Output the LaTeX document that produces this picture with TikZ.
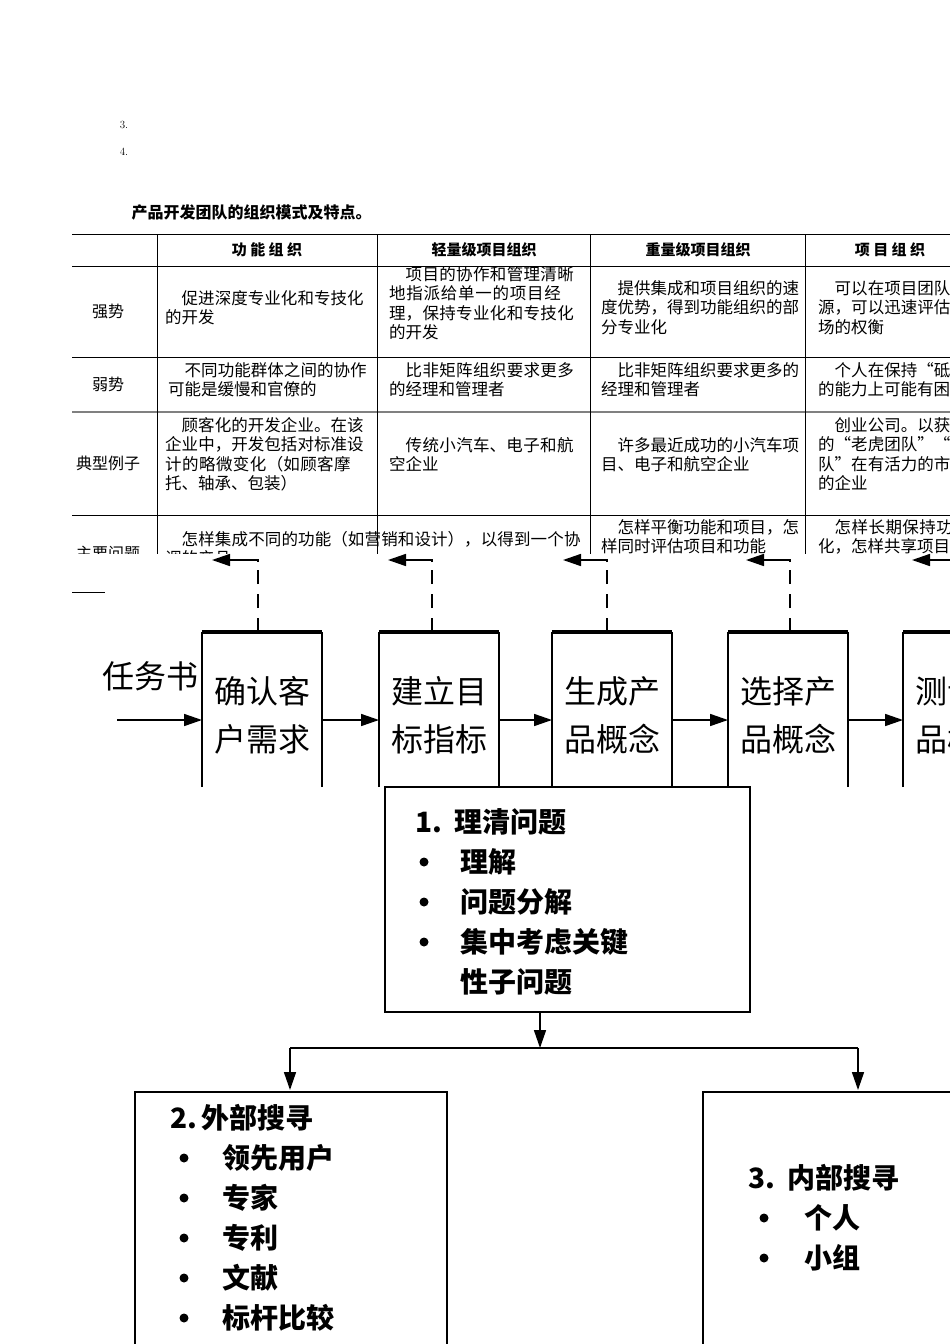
\documentclass[tikz,border=0pt]{standalone}
\usepackage{fontspec}
\newfontfamily\cjk{Noto Sans CJK SC}
\XeTeXlinebreaklocale "zh"
\XeTeXlinebreakskip=0pt plus 1pt
\usetikzlibrary{arrows.meta}
\begin{document}
\begin{tikzpicture}[x=1pt,y=-1pt,
 cell/.style={font=\cjk\fontsize{16.5}{19.5}\selectfont,align=left,inner sep=0pt},
 big/.style={font=\cjk\bfseries\fontsize{28}{30}\selectfont,inner sep=0pt},
 item/.style={font=\cjk\bfseries\fontsize{28}{30}\selectfont,anchor=west,inner sep=0pt},
 arr/.style={-{Triangle[length=18pt,width=12pt]},line width=1.6pt}]
\useasboundingbox (0,0) rectangle (950,1344);
\fill[white] (0,0) rectangle (950,1344);
\node[font=\fontsize{11}{12}\selectfont] (n3) at (124,125) {3.};
\node[font=\fontsize{11}{12}\selectfont] (n4) at (124,152) {4.};
\node[anchor=west,font=\cjk\bfseries\fontsize{16}{16}\selectfont] (cap) at (128,212) {产品开发团队的组织模式及特点。};
\begin{scope}
\clip (60,225) rectangle (950,553);
\draw[line width=1pt] (72,234) -- (950,234);
\draw (72,266) -- (950,266);
\draw[line width=1pt] (72,357) -- (950,357);
\draw[line width=1.2pt,gray] (72,412) -- (950,412);
\draw (72,515) -- (950,515);
\foreach \x in {157,377,590,805} \draw (\x,234) -- (\x,560);
\foreach \x/\t in {267/功 能 组 织,484/轻量级项目组织,698/重量级项目组织,890/项 目 组 织}
  \node[font=\cjk\bfseries\fontsize{15}{16}\selectfont] at (\x,250) {\t};
\foreach \y/\t in {311/强势,384/弱势,463/典型例子,553/主要问题}
  \node[font=\cjk\fontsize{16}{16}\selectfont] at (108,\y) {\t};
\node[cell,anchor=north west,text width=200pt] (a1) at (165,290) {\quad 促进深度专业化和专技化的开发};
\node[cell,anchor=north west,text width=196pt] (b1) at (389,266) {\quad 项目的协作和管理清晰地指派给单一的项目经理，保持专业化和专技化的开发};
\node[cell,anchor=north west,text width=198pt] (c1) at (601,280) {\quad 提供集成和项目组织的速度优势，得到功能组织的部分专业化};
\node[cell,anchor=north west,text width=200pt] (d1) at (818,280) {\quad 可以在项目团队内分配资源，可以迅速评估技术和市场的权衡};
\node[cell,anchor=north west,text width=200pt] (a2) at (168,362) {\quad 不同功能群体之间的协作可能是缓慢和官僚的};
\node[cell,anchor=north west,text width=196pt] (b2) at (389,362) {\quad 比非矩阵组织要求更多的经理和管理者};
\node[cell,anchor=north west,text width=198pt] (c2) at (601,362) {\quad 比非矩阵组织要求更多的经理和管理者};
\node[cell,anchor=north west,text width=200pt] (d2) at (818,362) {\quad 个人在保持“砥砺”功能的能力上可能有困难};
\node[cell,anchor=north west,text width=200pt] (a3) at (165,417) {\quad 顾客化的开发企业。在该企业中，开发包括对标准设计的略微变化（如顾客摩托、轴承、包装）};
\node[cell,anchor=north west,text width=196pt] (b3) at (389,437) {\quad 传统小汽车、电子和航空企业};
\node[cell,anchor=north west,text width=198pt] (c3) at (601,437) {\quad 许多最近成功的小汽车项目、电子和航空企业};
\node[cell,anchor=north west,text width=200pt] (d3) at (818,417) {\quad 创业公司。以获胜为目的的“老虎团队”“黄鼠狼团队”在有活力的市场上竞争的企业};
\node[cell,anchor=north west,text width=420pt] (a4) at (165,531) {\quad 怎样集成不同的功能（如营销和设计），以得到一个协调的产品};
\node[cell,anchor=north west,text width=198pt] (c4) at (601,519) {\quad 怎样平衡功能和项目，怎样同时评估项目和功能};
\node[cell,anchor=north west,text width=200pt] (d4) at (818,519) {\quad 怎样长期保持功能专业化，怎样共享项目};
\end{scope}
\draw (72,592) -- (105,592);
% stages
\foreach \n/\x/\t in {s1/202/确认客\\户需求,s2/379/建立目\\标指标,s3/552/生成产\\品概念,s4/728/选择产\\品概念,s5/903/测试产\\品概念}{
  \draw[line width=1.6pt] (\x,787) -- (\x,632);
  \draw[line width=1.6pt] (\x+120,787) -- (\x+120,632);
  \draw[line width=4pt] (\x,632) -- (\x+120,632);
  \node[font=\cjk\fontsize{32}{48}\selectfont,align=left,anchor=north west,inner sep=0pt] (\n) at (\x+12,676) {\t};
}
\foreach \x/\a in {258/212,432/388,607/563,790/746,955/912}{
  \draw[line width=1.4pt,dash pattern=on 14pt off 10pt] (\x,632) -- (\x,560);
  \draw[arr] (\x,562) -- (\x,560) -- (\a,560);
}
\node[font=\cjk\fontsize{32}{36}\selectfont,inner sep=0pt] (task) at (150,676) {任务书};
\coordinate (in) at (117,720);
\draw[arr] (in) -- (202,720);
\draw[arr] (323,720) -- (379,720);
\draw[arr] (499,720) -- (552,720);
\draw[arr] (672,720) -- (728,720);
\draw[arr] (848,720) -- (903,720);
% central box
\draw[fill=white,line width=2pt] (385,787) rectangle (750,1012);
\node[big,anchor=west] at (415,822) {1.\ \ 理清问题};
\foreach \y/\t in {862/理解,902/问题分解,942/集中考虑关键}
  {\fill (424,\y) circle (4.5pt); \node[item] at (460,\y) {\t};}
\node[item] at (460,982) {性子问题};
\coordinate (split) at (540,1048);
\draw[arr] (540,1012) -- (split);
\draw[line width=1.4pt] (290,1048) -- (858,1048);
\draw[arr] (290,1048) -- (290,1090);
\draw[arr] (858,1048) -- (858,1090);
\draw[line width=2pt] (135,1350) -- (135,1092) -- (447,1092) -- (447,1350);
\draw[line width=2pt] (703,1350) -- (703,1092) -- (960,1092);
\node[item] at (170,1118) {2.\,外部搜寻};
\foreach \y/\t in {1158/领先用户,1198/专家,1238/专利,1278/文献,1318/标杆比较}
  {\fill (184,\y) circle (4.5pt); \node[item] at (222,\y) {\t};}
\node[item] at (748,1178) {3.\ \ 内部搜寻};
\foreach \y/\t in {1218/个人,1258/小组}
  {\fill (764,\y) circle (4.5pt); \node[item] at (804,\y) {\t};}
\end{tikzpicture}
\end{document}
